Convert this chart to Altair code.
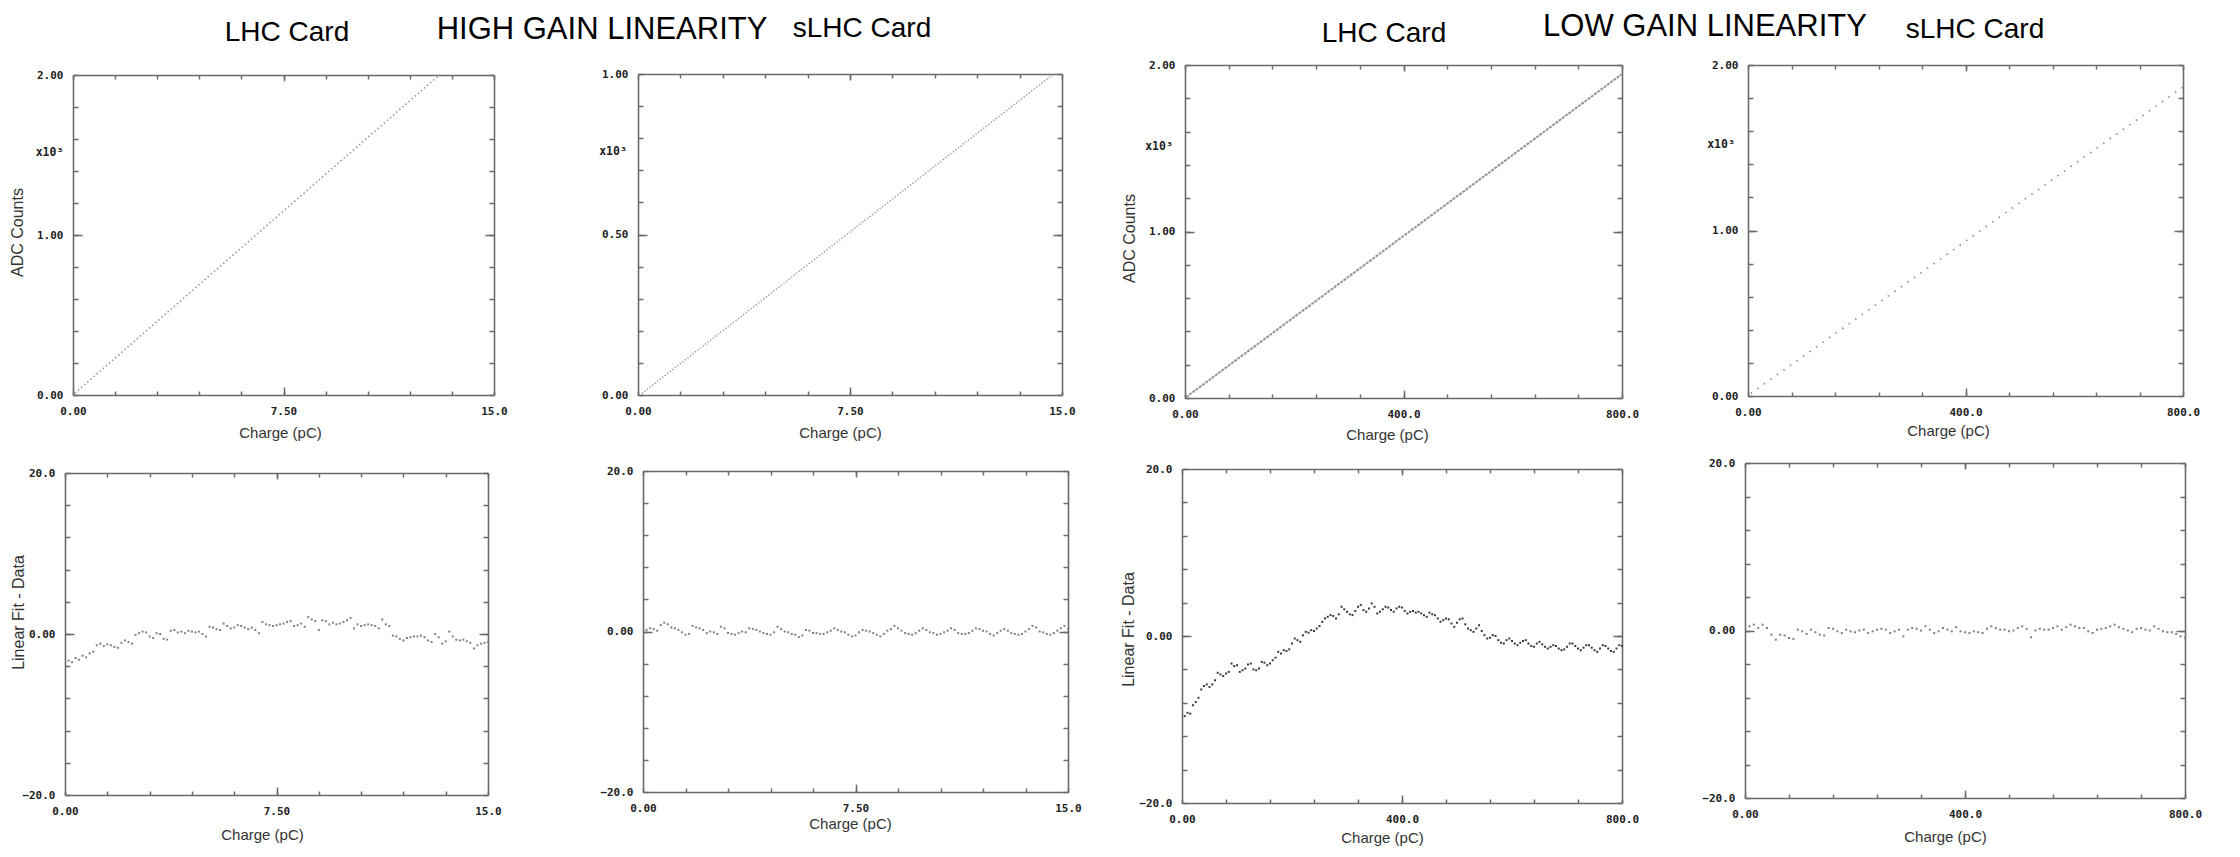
import altair as alt
import pandas as pd

W = 2220
H = 840

# ---------------- data ----------------
hg_charge = [
    0.125, 0.25, 0.375, 0.5, 0.625, 0.75, 0.875, 1.0,
    1.125, 1.25, 1.375, 1.5, 1.625, 1.75, 1.875, 2.0,
    2.125, 2.25, 2.375, 2.5, 2.625, 2.75, 2.875, 3.0,
    3.125, 3.25, 3.375, 3.5, 3.625, 3.75, 3.875, 4.0,
    4.125, 4.25, 4.375, 4.5, 4.625, 4.75, 4.875, 5.0,
    5.125, 5.25, 5.375, 5.5, 5.625, 5.75, 5.875, 6.0,
    6.125, 6.25, 6.375, 6.5, 6.625, 6.75, 6.875, 7.0,
    7.125, 7.25, 7.375, 7.5, 7.625, 7.75, 7.875, 8.0,
    8.125, 8.25, 8.375, 8.5, 8.625, 8.75, 8.875, 9.0,
    9.125, 9.25, 9.375, 9.5, 9.625, 9.75, 9.875, 10.0,
    10.125, 10.25, 10.375, 10.5, 10.625, 10.75, 10.875, 11.0,
    11.125, 11.25, 11.375, 11.5, 11.625, 11.75, 11.875, 12.0,
    12.125, 12.25, 12.375, 12.5, 12.625, 12.75, 12.875, 13.0,
    13.125, 13.25, 13.375, 13.5, 13.625, 13.75, 13.875, 14.0,
    14.125, 14.25, 14.375, 14.5, 14.625, 14.75, 14.875, 15.0,
]

lg_lhc_charge = [
    5, 10, 15, 20, 25, 30, 35, 40, 45, 50,
    55, 60, 65, 70, 75, 80, 85, 90, 95, 100,
    105, 110, 115, 120, 125, 130, 135, 140, 145, 150,
    155, 160, 165, 170, 175, 180, 185, 190, 195, 200,
    205, 210, 215, 220, 225, 230, 235, 240, 245, 250,
    255, 260, 265, 270, 275, 280, 285, 290, 295, 300,
    305, 310, 315, 320, 325, 330, 335, 340, 345, 350,
    355, 360, 365, 370, 375, 380, 385, 390, 395, 400,
    405, 410, 415, 420, 425, 430, 435, 440, 445, 450,
    455, 460, 465, 470, 475, 480, 485, 490, 495, 500,
    505, 510, 515, 520, 525, 530, 535, 540, 545, 550,
    555, 560, 565, 570, 575, 580, 585, 590, 595, 600,
    605, 610, 615, 620, 625, 630, 635, 640, 645, 650,
    655, 660, 665, 670, 675, 680, 685, 690, 695, 700,
    705, 710, 715, 720, 725, 730, 735, 740, 745, 750,
    755, 760, 765, 770, 775, 780, 785, 790, 795, 800,
]

lg_slhc_charge = [
    8, 16, 24, 32, 40, 48, 56, 64, 72, 80,
    88, 96, 104, 112, 120, 128, 136, 144, 152, 160,
    168, 176, 184, 192, 200, 208, 216, 224, 232, 240,
    248, 256, 264, 272, 280, 288, 296, 304, 312, 320,
    328, 336, 344, 352, 360, 368, 376, 384, 392, 400,
    408, 416, 424, 432, 440, 448, 456, 464, 472, 480,
    488, 496, 504, 512, 520, 528, 536, 544, 552, 560,
    568, 576, 584, 592, 600, 608, 616, 624, 632, 640,
    648, 656, 664, 672, 680, 688, 696, 704, 712, 720,
    728, 736, 744, 752, 760, 768, 776, 784, 792, 800,
]

# Linear Fit - Data residuals
hg_lhc_resid = [
    -3.3, -3.5, -3.0, -3.2, -2.7, -2.9, -2.4, -2.2, -1.4, -1.2,
    -1.5, -1.3, -1.4, -1.6, -1.7, -1.1, -0.8, -1.0, -1.2, -0.1,
    0.1, 0.3, 0.2, -0.3, -0.5, 0.1, 0.0, -0.6, -0.7, 0.4,
    0.5, 0.2, 0.3, 0.1, 0.4, 0.3, 0.2, 0.3, 0.0, -0.3,
    0.9, 0.8, 0.6, 0.5, 1.3, 1.0, 0.7, 0.8, 1.1, 1.0,
    0.8, 0.6, 0.8, 0.5, 0.1, 1.5, 1.2, 1.1, 1.0, 1.1,
    1.2, 1.3, 1.5, 1.6, 1.0, 1.1, 1.3, 0.9, 2.1, 1.8,
    1.6, 0.5, 1.7, 1.6, 1.2, 1.4, 1.2, 1.3, 1.5, 1.7,
    2.0, 0.7, 1.2, 1.0, 1.1, 1.2, 1.1, 1.0, 0.7, 1.8,
    1.2, 1.0, -0.2, -0.3, -0.6, -0.8, -0.5, -0.4, -0.3, -0.3,
    -0.2, -0.4, -0.8, -1.0, 0.0, -0.4, -1.2, -0.9, 0.3, -0.3,
    -0.7, -0.8, -0.7, -0.9, -1.1, -1.8, -1.4, -1.2, -1.1, -1.0,
]

hg_slhc_resid = [
    0.2, 0.4, 0.3, 0.1, 0.8, 1.1, 0.9, 0.5, 0.4, 0.2,
    -0.1, -0.4, -0.3, 0.7, 0.5, 0.4, 0.2, -0.2, 0.0, -0.1,
    -0.3, 0.6, 0.4, -0.2, -0.3, -0.4, -0.2, 0.0, -0.1, 0.4,
    0.3, 0.2, 0.0, -0.2, -0.3, -0.4, -0.1, 0.6, 0.3, 0.0,
    -0.1, -0.3, -0.4, -0.7, -0.5, 0.2, 0.1, -0.2, -0.2, -0.3,
    -0.3, -0.1, 0.1, 0.4, 0.2, 0.0, -0.1, -0.4, -0.6, -0.5,
    -0.1, 0.2, 0.1, 0.0, -0.2, -0.4, -0.6, -0.3, 0.1, 0.3,
    0.7, 0.4, 0.1, -0.2, -0.3, -0.4, -0.2, 0.1, 0.4, 0.2,
    -0.1, -0.2, -0.4, -0.3, -0.1, 0.1, 0.4, 0.2, -0.2, -0.3,
    -0.3, -0.2, 0.1, 0.4, 0.3, 0.1, 0.0, -0.3, -0.5, -0.2,
    0.1, 0.3, 0.1, -0.2, -0.3, -0.4, -0.3, 0.0, 0.3, 0.7,
    0.5, 0.0, -0.1, -0.3, -0.4, -0.2, 0.1, 0.4, 0.7, 0.3,
]

lg_lhc_resid = [
    -9.6, -9.2, -9.3, -8.3, -7.9, -7.4, -6.4, -6.0, -5.8, -6.1,
    -5.8, -5.3, -4.4, -4.6, -4.8, -4.5, -4.3, -3.3, -3.6, -3.5,
    -4.3, -4.1, -3.9, -3.4, -3.3, -4.0, -4.1, -3.9, -3.1, -3.2,
    -3.5, -3.3, -2.9, -2.6, -1.9, -2.1, -1.7, -1.8, -1.6, -0.9,
    -0.3, -0.5, -0.7, 0.1, 0.5, 0.4, 0.7, 0.6, 0.9, 1.2,
    1.7, 2.1, 2.3, 2.5, 2.4, 2.1, 2.6, 3.5, 3.2, 2.9,
    2.6, 2.5, 3.0, 3.5, 3.7, 3.1, 2.9, 3.3, 3.9, 3.5,
    2.7, 2.9, 3.2, 3.5, 3.4, 3.1, 2.9, 3.3, 3.5, 3.4,
    3.0, 2.7, 2.9, 3.0, 2.8, 2.9, 2.7, 2.5, 2.3, 2.8,
    2.6, 2.5, 2.1, 1.7, 1.9, 2.1, 2.0, 1.5, 1.1, 1.6,
    2.0, 2.1, 1.4, 0.9, 0.7, 0.5, 0.9, 1.3, 0.6, 0.1,
    -0.3, -0.2, 0.1, 0.0, -0.5, -0.8, -0.9, -0.5, -0.3, -0.6,
    -0.9, -1.1, -0.8, -0.6, -0.5, -0.9, -1.2, -1.3, -0.9, -0.7,
    -1.0, -1.3, -1.5, -1.3, -1.1, -1.2, -1.5, -1.7, -1.6, -1.3,
    -0.9, -0.9, -1.2, -1.5, -1.7, -1.4, -1.1, -1.1, -1.4, -1.7,
    -1.9, -1.5, -1.1, -1.2, -1.5, -1.8, -1.9, -1.5, -1.1, -1.2,
]

lg_slhc_resid = [
    0.5, 0.7, 0.3, 0.7, 0.3, -0.5, -1.1, -0.5, -0.6, -0.9,
    -1.0, 0.1, -0.1, -0.4, 0.1, -0.2, -0.5, -0.6, 0.3, 0.2,
    -0.1, -0.3, 0.1, -0.1, -0.2, 0.0, 0.1, -0.3, -0.1, 0.1,
    0.2, 0.1, -0.3, -0.1, 0.1, -0.7, 0.1, 0.3, 0.2, 0.0,
    0.5, 0.1, -0.3, -0.1, 0.3, 0.1, -0.1, 0.4, -0.1, -0.2,
    -0.3, -0.1, -0.2, -0.3, 0.2, 0.5, 0.3, 0.1, 0.1, -0.1,
    0.0, 0.3, 0.5, 0.2, -0.8, 0.0, 0.2, 0.1, 0.1, 0.3,
    0.5, 0.1, 0.4, 0.7, 0.5, 0.3, 0.3, -0.1, -0.3, 0.1,
    0.2, 0.3, 0.5, 0.7, 0.4, 0.2, 0.0, -0.2, 0.2, 0.3,
    0.1, 0.0, 0.5, 0.2, -0.1, -0.2, -0.2, -0.4, -0.7, -0.9,
]

# ADC counts ramps (dotted straight lines, end points)
hg_lhc_ramp_charge = [0.07, 13.05]
hg_lhc_ramp_adc = [12, 2000]
hg_slhc_ramp_charge = [0.14, 14.7]
hg_slhc_ramp_adc = [5, 1000]
lg_lhc_ramp_charge = [2.0, 800.0]
lg_lhc_ramp_adc = [5, 1946]
lg_slhc_ramp_charge = [5.0, 800.0]
lg_slhc_ramp_adc = [15, 1867]

# tick values
hg_x_ticks = [0, 1.5, 3, 4.5, 6, 7.5, 9, 10.5, 12, 13.5, 15]
lg_x_ticks = [0, 80, 160, 240, 320, 400, 480, 560, 640, 720, 800]
adc2k_ticks = [0, 200, 400, 600, 800, 1000, 1200, 1400, 1600, 1800, 2000]
adc1k_ticks = [0, 100, 200, 300, 400, 500, 600, 700, 800, 900, 1000]
resid_ticks = [-20, -16, -12, -8, -4, 0, 4, 8, 12, 16, 20]

# ---------------- styling ----------------
FRAME = '#6a6a6a'
LABEL_FONT = 'DejaVu Sans Mono'
TITLE_FONT = 'Liberation Sans'

HG_X_EXPR = ("datum.value == 0 ? '0.00' : (datum.value < 10 ? format(datum.value, '.2f')"
             " : format(datum.value, '.1f'))")
LG_X_EXPR = "datum.value == 0 ? '0.00' : format(datum.value, '.1f')"
ADC_Y_EXPR = "format(datum.value / 1000, '.2f')"
RES_Y_EXPR = "datum.value == 0 ? '0.00' : format(datum.value, '.1f')"

one = pd.DataFrame({'k': [0]})


def panel_layers(box, xdom, ydom, xticks, yticks, xmid, ymid, xexpr, yexpr,
                 base, xf, yf, xtitle_xy, ytitle=None, ytitle_xy=None):
    a, r, t, b = box
    xs = alt.Scale(domain=xdom, range=[a, r], nice=False, zero=False)
    ys = alt.Scale(domain=ydom, range=[b, t], nice=False, zero=False)
    xaxis = alt.Axis(orient='bottom', offset=b - H, values=[xdom[0], xmid, xdom[1]],
                     labelExpr=xexpr, ticks=False, domain=True, labelPadding=10,
                     title='Charge (pC)', titleX=xtitle_xy[0], titleY=xtitle_xy[1] - b,
                     titleBaseline='middle', titleAlign='center', titleAngle=0)
    ykw = dict(orient='left', offset=-a, values=[ydom[0], ymid, ydom[1]],
               labelExpr=yexpr, ticks=False, domain=True, labelPadding=10)
    if ytitle:
        ykw.update(title=ytitle, titleX=ytitle_xy[0] - a, titleY=ytitle_xy[1],
                   titleAngle=270, titleBaseline='middle', titleAlign='center',
                   titleFontSize=16)
    else:
        ykw.update(title=None)
    layers = [base.encode(
        x=alt.X(xf, type='quantitative', scale=xs, axis=xaxis),
        y=alt.Y(yf, type='quantitative', scale=ys, axis=alt.Axis(**ykw)),
    )]
    frame = pd.DataFrame({'x': xdom, 'y': ydom})

    def ticks(xorient, xoff, xvals, xsize, yorient, yoff, yvals, ysize, dom):
        return alt.Chart(frame).mark_point(opacity=0).encode(
            x=alt.X('x:Q', scale=xs, axis=alt.Axis(
                orient=xorient, offset=xoff, values=xvals, labels=False, ticks=True,
                tickSize=xsize, domain=dom, title=None)),
            y=alt.Y('y:Q', scale=ys, axis=alt.Axis(
                orient=yorient, offset=yoff, values=yvals, labels=False, ticks=True,
                tickSize=ysize, domain=dom, title=None)),
        )

    # inward minor ticks on bottom/left edges
    layers.append(ticks('top', -b, xticks, 4, 'right', a - W, yticks, 5, False))
    # inward minor ticks on top/right edges + top/right frame lines
    layers.append(ticks('bottom', t - H, xticks, 4, 'left', -r, yticks, 5, True))
    # longer major ticks at the middle value
    layers.append(ticks('top', -b, [xmid], 8, 'right', a - W, [ymid], 9, False))
    layers.append(ticks('bottom', t - H, [xmid], 6, 'left', -r, [ymid], 9, False))
    return layers


def ramp(charge, adc, dash, width, color):
    df = pd.DataFrame({'charge': charge, 'adc': adc})
    return alt.Chart(df).mark_line(strokeDash=dash, strokeWidth=width, color=color)


def resid(charge, vals, color, size):
    df = pd.DataFrame({'charge': charge, 'resid': vals})
    return alt.Chart(df).mark_square(size=size, color=color, opacity=1)


def text(label, x, y, size, font=TITLE_FONT, weight='normal', color='#000'):
    return alt.Chart(one).mark_text(text=label, font=font, fontSize=size, fontWeight=weight,
                                    color=color, align='center', baseline='middle').encode(
        x=alt.value(x), y=alt.value(y))


layers = []

# ---- top row: ADC counts ----
layers += panel_layers((65, 486, 67, 387), [0, 15], [0, 2000], hg_x_ticks, adc2k_ticks, 7.5, 1000,
                       HG_X_EXPR, ADC_Y_EXPR,
                       ramp(hg_lhc_ramp_charge, hg_lhc_ramp_adc, [1.5, 2.6], 1.6, '#999999'),
                       'charge', 'adc', (272, 424), 'ADC Counts', (9, 224))
layers += panel_layers((630, 1054, 66, 387), [0, 15], [0, 1000], hg_x_ticks, adc1k_ticks, 7.5, 500,
                       HG_X_EXPR, ADC_Y_EXPR,
                       ramp(hg_slhc_ramp_charge, hg_slhc_ramp_adc, [1.3, 1.9], 1.5, '#999999'),
                       'charge', 'adc', (832, 424))
layers += panel_layers((1177, 1614, 57, 390), [0, 800], [0, 2000], lg_x_ticks, adc2k_ticks, 400, 1000,
                       LG_X_EXPR, ADC_Y_EXPR,
                       ramp(lg_lhc_ramp_charge, lg_lhc_ramp_adc, [3, 1], 2, '#959595'),
                       'charge', 'adc', (1379, 426), 'ADC Counts', (1121, 230))
layers += panel_layers((1740, 2175, 57, 388), [0, 800], [0, 2000], lg_x_ticks, adc2k_ticks, 400, 1000,
                       LG_X_EXPR, ADC_Y_EXPR,
                       ramp(lg_slhc_ramp_charge, lg_slhc_ramp_adc, [1.6, 6.4], 1.8, '#9a9a9a'),
                       'charge', 'adc', (1940, 422))

# ---- bottom row: Linear Fit - Data ----
layers += panel_layers((57, 480, 465, 787), [0, 15], [-20, 20], hg_x_ticks, resid_ticks, 7.5, 0,
                       HG_X_EXPR, RES_Y_EXPR,
                       resid(hg_charge, hg_lhc_resid, '#808080', 4),
                       'charge', 'resid', (254, 826), 'Linear Fit - Data', (10.5, 604))
layers += panel_layers((635, 1060, 463, 784), [0, 15], [-20, 20], hg_x_ticks, resid_ticks, 7.5, 0,
                       HG_X_EXPR, RES_Y_EXPR,
                       resid(hg_charge, hg_slhc_resid, '#808080', 4),
                       'charge', 'resid', (842, 815))
layers += panel_layers((1174, 1614, 461, 795), [0, 800], [-20, 20], lg_x_ticks, resid_ticks, 400, 0,
                       LG_X_EXPR, RES_Y_EXPR,
                       resid(lg_lhc_charge, lg_lhc_resid, '#3a3a3a', 4),
                       'charge', 'resid', (1374, 829), 'Linear Fit - Data', (1120.5, 621))
layers += panel_layers((1737, 2177, 455, 790), [0, 800], [-20, 20], lg_x_ticks, resid_ticks, 400, 0,
                       LG_X_EXPR, RES_Y_EXPR,
                       resid(lg_slhc_charge, lg_slhc_resid, '#808080', 4),
                       'charge', 'resid', (1937, 828))

# ---- headings ----
layers += [
    text('LHC Card', 279, 25, 28),
    text('HIGH GAIN LINEARITY', 594, 22, 31),
    text('sLHC Card', 854, 21, 28),
    text('LHC Card', 1376, 26, 28),
    text('LOW GAIN LINEARITY', 1697, 19, 31),
    text('sLHC Card', 1967, 22, 28),
    text('x10³', 41.5, 145, 11.5, LABEL_FONT, 'bold', '#222'),
    text('x10³', 605, 144, 11.5, LABEL_FONT, 'bold', '#222'),
    text('x10³', 1151, 139, 11.5, LABEL_FONT, 'bold', '#222'),
    text('x10³', 1713, 137, 11.5, LABEL_FONT, 'bold', '#222'),
]

chart = (
    alt.layer(*layers)
    .resolve_scale(x='independent', y='independent')
    .resolve_axis(x='independent', y='independent')
    .properties(width=W, height=H, padding=0, autosize=alt.AutoSizeParams(type='none'),
                background='white')
    .configure_view(stroke=None)
    .configure_axis(grid=False, labelFont=LABEL_FONT, labelFontSize=11, labelFontWeight='bold',
                    labelColor='#222', titleFont=TITLE_FONT, titleFontSize=15,
                    titleFontWeight='normal', titleColor='#333', domainColor=FRAME,
                    domainWidth=1.6, tickColor=FRAME, tickWidth=1.5, labelFlush=False,
                    labelOverlap=False)
)

chart.save('out.html', embed_options={'renderer': 'svg', 'actions': False})
